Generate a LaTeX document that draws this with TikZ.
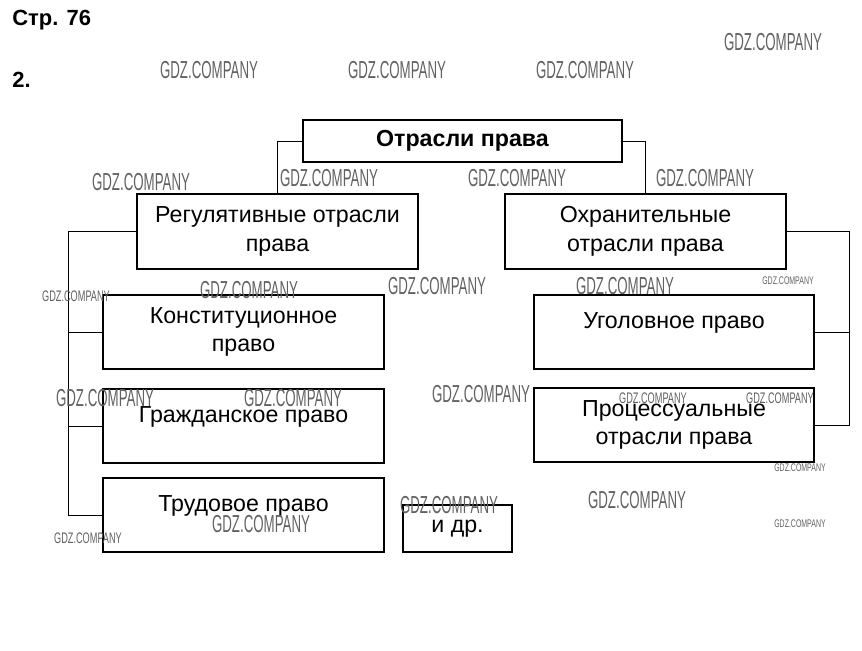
\documentclass[tikz,border=0pt]{standalone}
\usepackage{fontspec}
\setmainfont{Liberation Sans}

\tikzset{
    box/.style={draw, thick, line width=1.1pt, align=center, font=\fontsize{13.2}{16.2}\selectfont},
    oneline/.style={text height=10pt, text depth=14.5pt},
    link/.style={draw, line width=0.5pt},
    wm/.style={inner sep=0pt, text=black!62}
}
\newcommand{\wmark}[2]{\scalebox{#2}[1]{\fontsize{#1}{#1}\selectfont GDZ.COMPANY}}

\begin{document}
\begin{tikzpicture}[x=0.02cm, y=-0.02cm]
    \useasboundingbox (0,0) rectangle (862,650);

    % Page header
    \node[anchor=west, inner sep=0pt, font=\bfseries\fontsize{12.5}{15}\selectfont] (page) at (12,20) {Стр. 76};
    \node[anchor=west, inner sep=0pt, font=\bfseries\fontsize{12.5}{15}\selectfont] (task) at (12,80) {2.};

    % Top box
    \node[box, minimum width=6.38cm, minimum height=0.84cm, font=\bfseries\fontsize{13.2}{16.2}\selectfont] (top) at (462.5,141) {Отрасли права};

    % Second level
    \node[box, minimum width=5.62cm, minimum height=1.5cm] (reg) at (277.5,231.5) {Регулятивные отрасли\\права};
    \node[box, minimum width=5.62cm, minimum height=1.5cm] (okh) at (645.5,231.5) {Охранительные\\отрасли права};

    % Left column
    \node[box, minimum width=5.62cm, minimum height=1.48cm] (konst) at (243.5,332) {Конституционное\\право};
    \node[box, oneline, minimum width=5.62cm, minimum height=1.48cm] (grazh) at (243.5,426) {Гражданское право};
    \node[box, oneline, minimum width=5.62cm, minimum height=1.48cm] (trud) at (243.5,515) {Трудовое право};
    \node[box, minimum width=2.18cm, minimum height=0.94cm] (idr) at (457.5,528.5) {и др.};

    % Right column
    \node[box, oneline, minimum width=5.6cm, minimum height=1.48cm] (ugol) at (674,332) {Уголовное право};
    \node[box, minimum width=5.6cm, minimum height=1.48cm] (proc) at (674,425) {Процессуальные\\отрасли права};

    % Connectors
    \coordinate (lspine) at (68,232);
    \coordinate (rspine) at (849,232);
    \draw[link] (top.west) -| (reg.north);
    \draw[link] (top.east) -| (okh.north);
    \draw[link] (reg.west) -- (reg.west -| lspine) |- (trud.west);
    \draw[link] (lspine |- konst.west) -- (konst.west);
    \draw[link] (lspine |- grazh.west) -- (grazh.west);
    \draw[link] (okh.east) -- (okh.east -| rspine) |- (proc.east);
    \draw[link] (rspine |- ugol.east) -- (ugol.east);

    % Watermarks
    \node[wm] (wm1) at (209,70) {\wmark{14pt}{0.54}};
    \node[wm] (wm2) at (397,70) {\wmark{14pt}{0.54}};
    \node[wm] (wm3) at (585,70) {\wmark{14pt}{0.54}};
    \node[wm] (wm4) at (773,42) {\wmark{14pt}{0.54}};
    \node[wm] (wm5) at (141,182) {\wmark{14pt}{0.54}};
    \node[wm] (wm6) at (329,178) {\wmark{14pt}{0.54}};
    \node[wm] (wm7) at (517,178) {\wmark{14pt}{0.54}};
    \node[wm] (wm8) at (705,178) {\wmark{14pt}{0.54}};
    \node[wm] (wm9) at (76,296) {\wmark{8.7pt}{0.6}};
    \node[wm] (wm10) at (249,290) {\wmark{14pt}{0.54}};
    \node[wm] (wm11) at (437,286) {\wmark{14pt}{0.54}};
    \node[wm] (wm12) at (625,286) {\wmark{14pt}{0.54}};
    \node[wm] (wm13) at (788,281) {\wmark{6.3pt}{0.63}};
    \node[wm] (wm14) at (105,398) {\wmark{14pt}{0.54}};
    \node[wm] (wm15) at (293,398) {\wmark{14pt}{0.54}};
    \node[wm] (wm16) at (481,394) {\wmark{14pt}{0.54}};
    \node[wm] (wm17) at (653,398) {\wmark{8.7pt}{0.6}};
    \node[wm] (wm18) at (780,398) {\wmark{8.7pt}{0.6}};
    \node[wm] (wm19) at (800,468) {\wmark{6.3pt}{0.63}};
    \node[wm] (wm20) at (449,505) {\wmark{14pt}{0.54}};
    \node[wm] (wm21) at (637,500) {\wmark{14pt}{0.54}};
    \node[wm] (wm22) at (261,524) {\wmark{14pt}{0.54}};
    \node[wm] (wm23) at (88,538) {\wmark{8.7pt}{0.6}};
    \node[wm] (wm24) at (800,524) {\wmark{6.3pt}{0.63}};

\end{tikzpicture}
\end{document}
